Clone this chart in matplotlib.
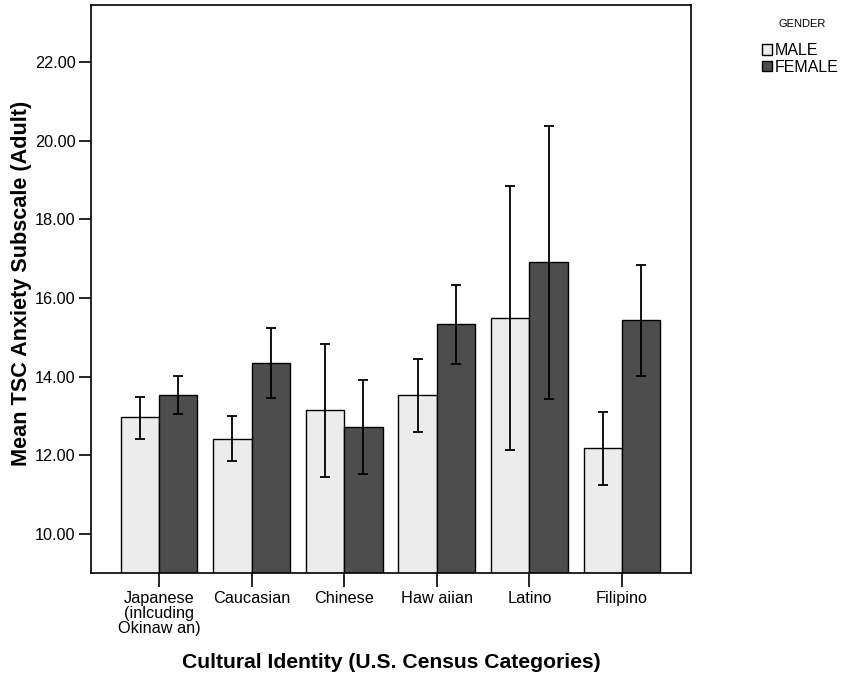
import matplotlib.pyplot as plt
import numpy as np

plt.rcParams['font.family'] = ['Liberation Sans', 'DejaVu Sans']

categories = ['Japanese\n(inlcuding\nOkinaw an)', 'Caucasian', 'Chinese',
              'Haw aiian', 'Latino', 'Filipino']
male_mean = [12.96, 12.42, 13.15, 13.52, 15.50, 12.19]
male_lo = [12.42, 11.86, 11.45, 12.58, 12.14, 11.25]
male_hi = [13.48, 13.00, 14.84, 14.45, 18.85, 13.11]
female_mean = [13.53, 14.34, 12.72, 15.33, 16.92, 15.43]
female_lo = [13.04, 13.45, 11.53, 14.31, 13.44, 14.02]
female_hi = [14.02, 15.24, 13.91, 16.33, 20.37, 16.85]

x = np.arange(len(categories))
w = 0.414

fig = plt.figure(figsize=(8.44, 6.79), dpi=100)
ax = fig.add_axes([0.1078, 0.1561, 0.7109, 0.8365])

def err(mean, lo, hi):
    return [np.array(mean) - np.array(lo), np.array(hi) - np.array(mean)]

ekw = dict(ecolor='black', elinewidth=1.3, capsize=3.3, capthick=1.3)
ax.bar(x - w / 2, male_mean, w, color='#ececec', edgecolor='black',
       linewidth=1.0, yerr=err(male_mean, male_lo, male_hi), error_kw=ekw,
       label='MALE')
ax.bar(x + w / 2, female_mean, w, color='#4d4d4d', edgecolor='black',
       linewidth=1.0, yerr=err(female_mean, female_lo, female_hi),
       error_kw=ekw, label='FEMALE')

ax.set_ylim(9.0, 23.46)
ax.set_xlim(-0.734, 5.745)
yt = [10, 12, 14, 16, 18, 20, 22]
ax.set_yticks(yt)
ax.set_yticklabels(['%.2f' % v for v in yt])
ax.set_xticks(x)
ax.set_xticklabels(categories, linespacing=1.0)
ax.tick_params(axis='both', direction='out', width=1.2,
               labelsize=11.7, color='black')
ax.tick_params(axis='y', length=9, pad=2)
ax.tick_params(axis='x', length=10, pad=3)
for s in ax.spines.values():
    s.set_linewidth(1.2)

ax.set_ylabel('Mean TSC Anxiety Subscale (Adult)', fontsize=15.6,
              fontweight='bold')
ax.yaxis.set_label_coords(-0.098, 0.51)
ax.set_xlabel('Cultural Identity (U.S. Census Categories)', fontsize=15.2,
              fontweight='bold')
ax.xaxis.set_label_coords(0.5, -0.14)

fig.text(802 / 844, 1 - 24 / 679, 'GENDER', ha='center', va='center',
         fontsize=8)
fig.legend(loc='upper left', bbox_to_anchor=(762 / 844, 1 - 43 / 679),
           frameon=False, fontsize=11.5, handlelength=0.65,
           handleheight=0.65, handletextpad=0.15, labelspacing=0.1,
           borderpad=0, borderaxespad=0)

fig.savefig('out.png', dpi=100)
